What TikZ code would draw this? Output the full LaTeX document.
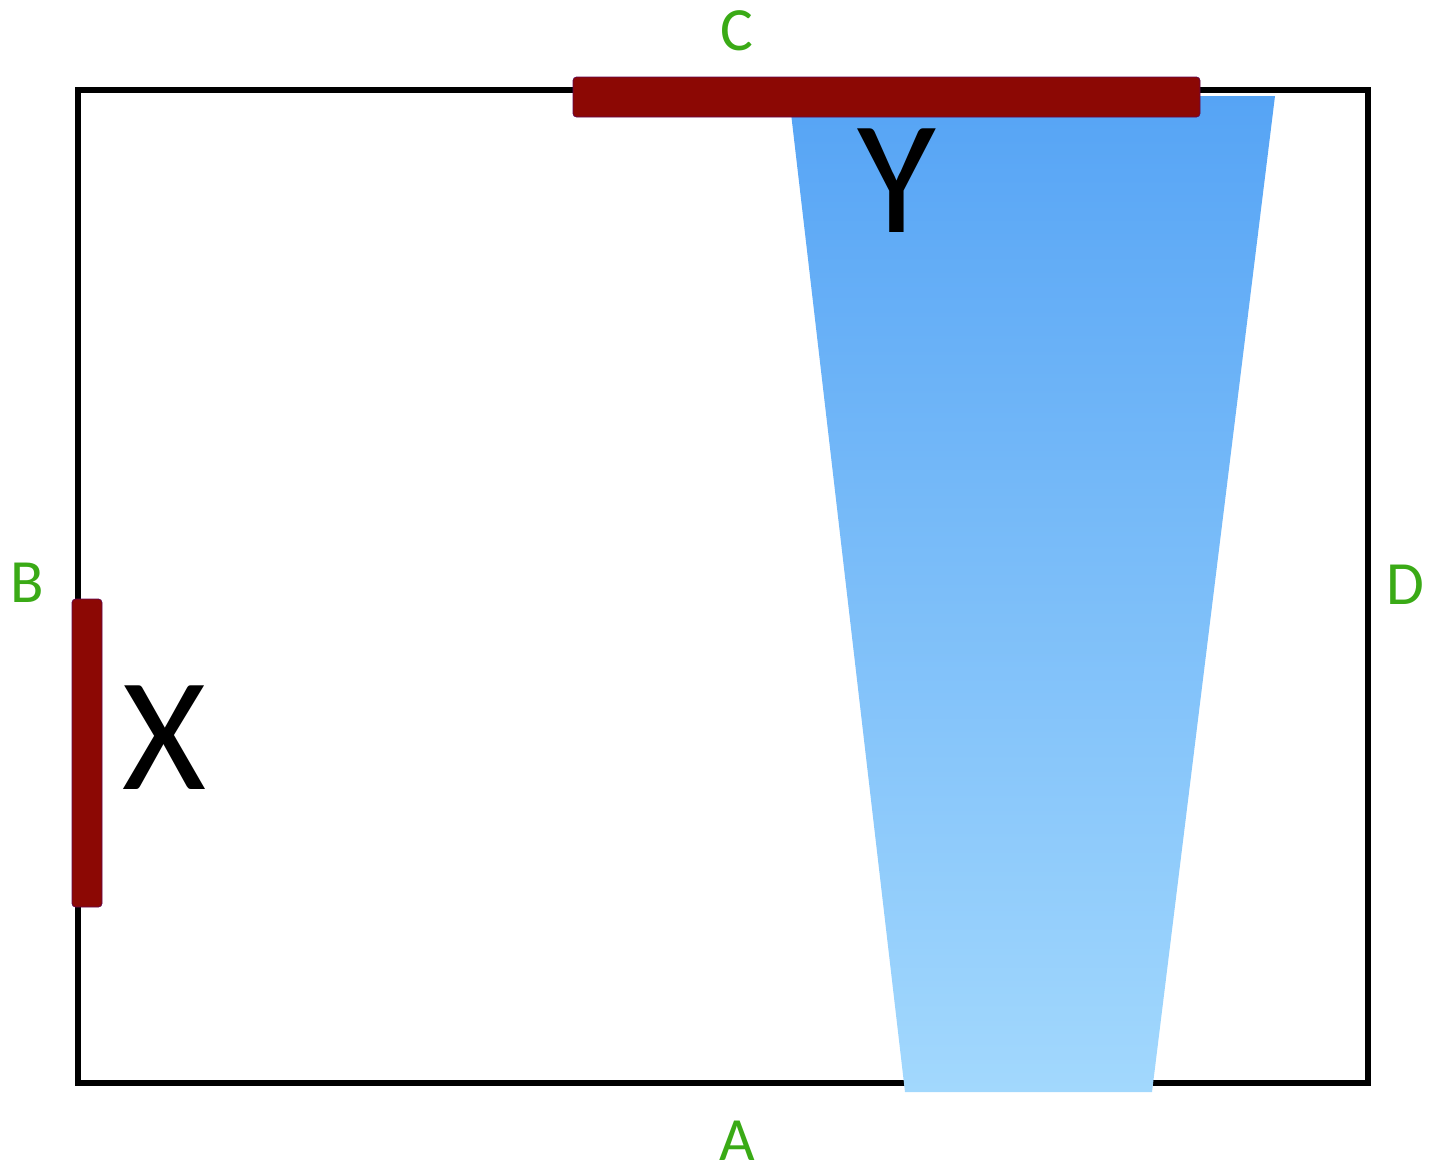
\documentclass[tikz,border=0pt]{standalone}
\usepackage{fontspec}
\setmainfont{Carlito}
\definecolor{barred}{RGB}{140,8,4}
\definecolor{labelgreen}{RGB}{58,170,22}
\definecolor{beamtop}{RGB}{86,164,245}
\definecolor{beambottom}{RGB}{162,216,253}
\tikzset{
  sidelabel/.style={text=labelgreen, inner sep=0pt, font=\fontsize{35}{40}\selectfont},
  biglabel/.style={text=black, inner sep=0pt, font=\fontsize{92}{100}\selectfont},
  electrode/.style={fill=barred, draw=barred!70!blue, line width=0.4pt, rounded corners=2pt}
}
\begin{document}
\begin{tikzpicture}[x=0.02cm, y=-0.02cm]
		\useasboundingbox (0,0) rectangle (1441,1174);
		\draw[line width=3.6pt, line cap=rect] (78,90) rectangle (1368,1083);
		
		\shade[top color=beamtop, bottom color=beambottom] (789,96) -- (1275,96) -- (1152,1092) -- (905,1092) -- cycle;
		
		\draw[electrode] (573,77) rectangle (1200,117);
		\draw[electrode] (72,599) rectangle (102,907);
		
		\node[sidelabel] (labelC) at (737,31) {C};
		\node[sidelabel] (labelB) at (27,583) {B};
		\node[sidelabel] (labelD) at (1405,585) {D};
		\node[sidelabel] (labelA) at (737,1141) {A};
		
		\node[biglabel] (labelX) at (164,738) {X};
		\node[biglabel] (labelY) at (897,181) {Y};
		\end{tikzpicture}
\end{document}
